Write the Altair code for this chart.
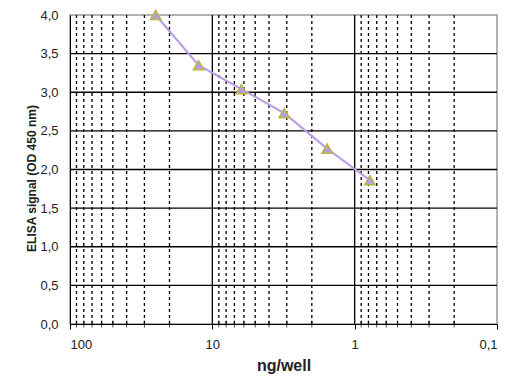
import altair as alt
import pandas as pd

# data
ng_well = [25, 12.5, 6.25, 3.125, 1.5625, 0.78125]
od450 = [4.0, 3.35, 3.04, 2.73, 2.27, 1.86]

x_major = [100, 10, 1, 0.1]
x_inner_major = [10, 1]
x_minor = [90, 80, 70, 60, 50, 40, 30, 20,
           9, 8, 7, 6, 5, 4, 3, 2,
           0.9, 0.8, 0.7, 0.6, 0.5, 0.4, 0.3, 0.2]
y_ticks = [0, 0.5, 1.0, 1.5, 2.0, 2.5, 3.0, 3.5, 4.0]
y_inner = [0.5, 1.0, 1.5, 2.0, 2.5, 3.0, 3.5]

df = pd.DataFrame({"x": ng_well, "y": od450})
df_minor = pd.DataFrame({"x": x_minor, "y": [0] * len(x_minor)})
df_vmajor = pd.DataFrame({"x": x_inner_major})
df_h = pd.DataFrame({"y": y_inner})

FONT = "Liberation Sans"

xscale = alt.Scale(type="log", domain=[0.1, 100], reverse=True, nice=False)
yscale = alt.Scale(domain=[0, 4], nice=False)

xaxis = alt.Axis(
    values=x_major,
    labelExpr="replace(format(datum.value, ''), '.', ',')",
    grid=False, domainColor="black", tickColor="black", tickSize=5,
    labelFont=FONT, labelFontSize=13, labelColor="#222", labelPadding=9,
    labelOverlap=False,
    title="ng/well", titleFont=FONT, titleFontSize=16, titleFontWeight="bold",
    titleColor="#222", titlePadding=6,
)
yaxis = alt.Axis(
    values=y_ticks,
    labelExpr="replace(format(datum.value, '.1f'), '.', ',')",
    grid=False, domainColor="black", ticks=False,
    labelFont=FONT, labelFontSize=13, labelColor="#222", labelPadding=12,
    labelOverlap=False,
    title="ELISA signal (OD 450 nm)", titleFont=FONT, titleFontSize=12,
    titleFontWeight="bold", titleColor="#222",
    titleX=-32, titleY=163, titleBaseline="bottom", titleAngle=270,
)

X = lambda: alt.X("x:Q", scale=xscale, axis=xaxis)
Y = lambda: alt.Y("y:Q", scale=yscale, axis=yaxis)

minor = alt.Chart(df_minor).mark_rule(
    color="black", strokeDash=[3, 3], strokeWidth=1.3
).encode(x=X())

minor_ticks = alt.Chart(df_minor).mark_tick(
    color="black", orient="vertical", size=7, thickness=1
).encode(x=X(), y=Y())

vmajor = alt.Chart(df_vmajor).mark_rule(color="black", strokeWidth=1.3).encode(x=X())
hlines = alt.Chart(df_h).mark_rule(color="black", strokeWidth=1.3).encode(y=Y())

line = alt.Chart(df).mark_line(color="#b89ce6", strokeWidth=2).encode(x=X(), y=Y())
pts = alt.Chart(df).mark_point(
    shape="triangle-up", filled=True, size=110, fill="#b89ce6",
    stroke="#b8b840", strokeWidth=1.5, opacity=1
).encode(x=X(), y=Y())

chart = alt.layer(minor, minor_ticks, vmajor, hlines, line, pts).properties(
    width=427, height=309,
    autosize=alt.AutoSizeParams(type="none"),
    padding={"left": 62, "top": 7, "right": 3, "bottom": 53},
).configure_view(stroke="#999999", strokeWidth=1.5)

chart.save("out.html", embed_options={"renderer": "svg", "actions": False})
